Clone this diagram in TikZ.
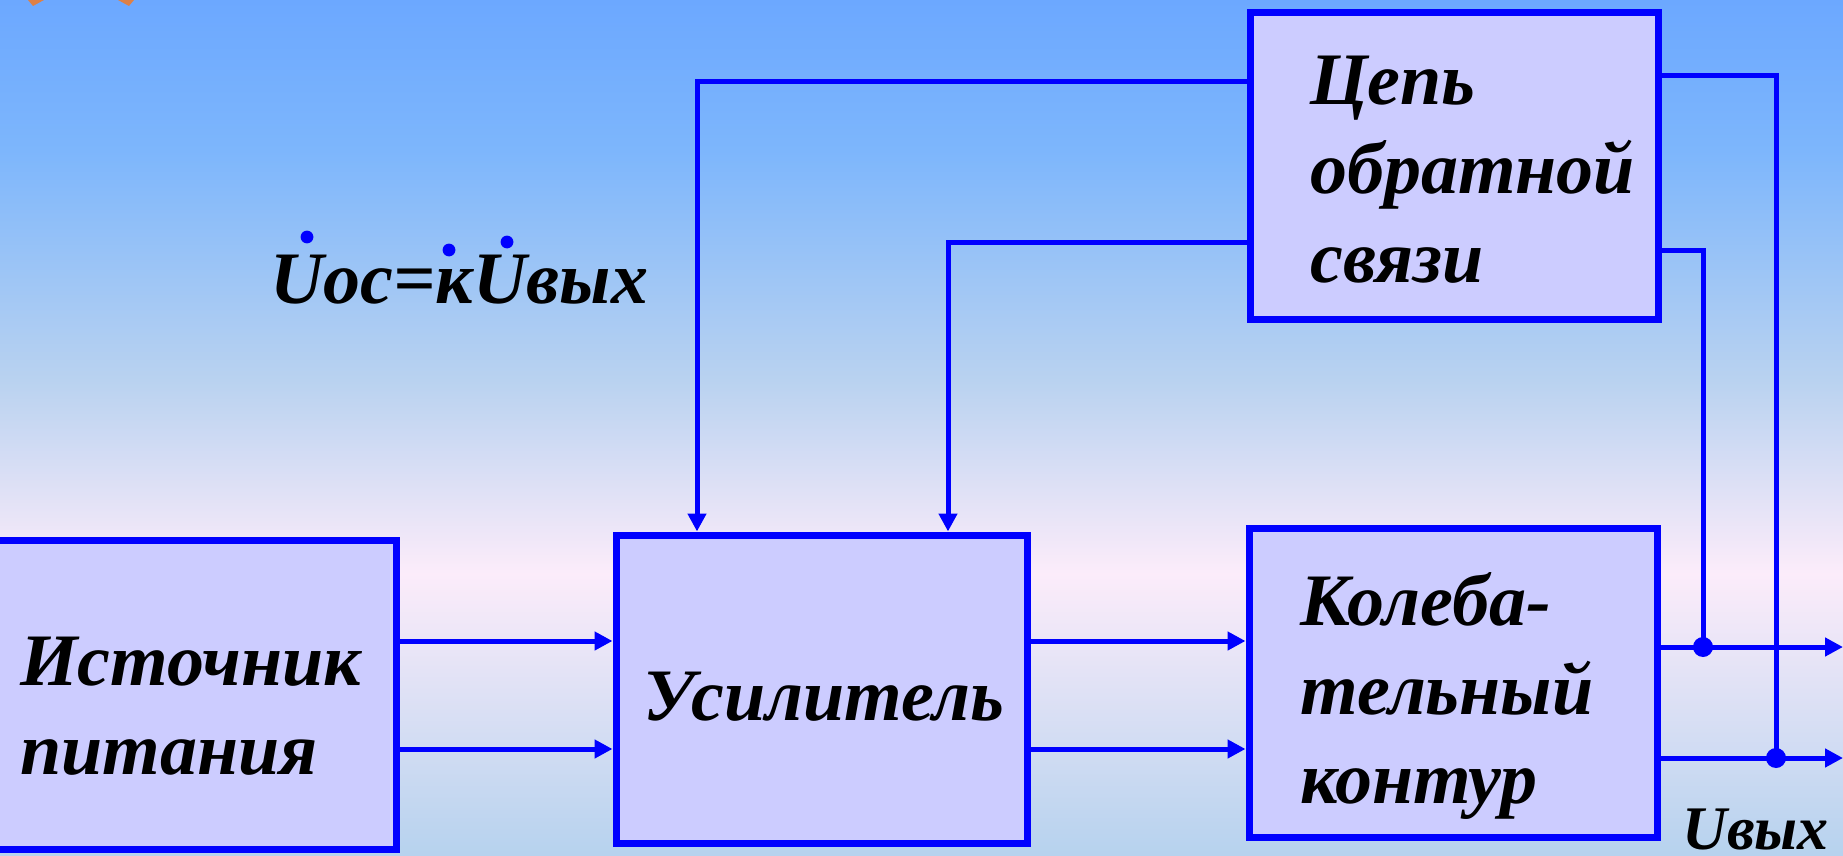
\documentclass[tikz,border=0pt]{standalone}
\usepackage{fontspec}
\setmainfont{Liberation Serif}
\usetikzlibrary{arrows.meta,calc}

\definecolor{bgtop}{RGB}{108,168,255}
\definecolor{bghigh}{RGB}{125,182,252}
\definecolor{bgmid}{RGB}{185,210,240}
\definecolor{bgpink}{RGB}{252,236,250}
\definecolor{bgbot}{RGB}{182,210,238}
\definecolor{boxfill}{RGB}{204,204,255}
\definecolor{wireblue}{RGB}{0,0,255}
\definecolor{starorange}{RGB}{222,128,70}

% slide background, stops inside the 25bp..75bp band
\pgfdeclareverticalshading{slidebg}{100bp}{color(0bp)=(bgbot); color(25bp)=(bgbot); color(41.5bp)=(bgpink); color(52.8bp)=(bgmid); color(66.2bp)=(bghigh); color(75bp)=(bgtop); color(100bp)=(bgtop)}

\begin{document}
\begin{tikzpicture}[x=0.5pt,y=-0.5pt,
    block/.style={draw=wireblue, line width=3.5pt, fill=boxfill},
    boxtext/.style={align=left, inner sep=0pt, anchor=west,
      font=\fontsize{37}{44.5}\selectfont\bfseries\itshape},
    wire/.style={wireblue, line width=2.5pt},
    arr/.style={wire, -{Triangle[length=9pt,width=9pt]}},
    jdot/.style={fill=wireblue}]
  \shade[shading=slidebg] (0,0) rectangle (1843,856);
  \useasboundingbox (0,0) rectangle (1843,856);
  % star tips
  \fill[starorange] (28,0) -- (44,0) -- (33,6) -- cycle;
  \fill[starorange] (118,0) -- (134,0) -- (129,6) -- cycle;

  % blocks
  \node[block, minimum width=199.5pt, minimum height=154.5pt] (src) at (196.5,694.5) {};
  \node[block, minimum width=205.5pt, minimum height=154pt] (amp) at (821.5,689) {};
  \node[block, minimum width=204pt, minimum height=154.5pt] (osc) at (1453,682.5) {};
  \node[block, minimum width=204pt, minimum height=153pt] (fb) at (1454,166) {};

  \node[boxtext] (srcText) at (20,706) {Источник\\питания};
  \node[boxtext] (ampText) at (643,697) {Усилитель};
  \node[boxtext] (oscText) at (1300,696) {Колеба-\\тельный\\контур};
  \node[boxtext] (fbText) at (1310,170) {Цепь\\обратной\\связи};

  % labels
  \node[font=\fontsize{37}{37}\selectfont\bfseries\itshape, anchor=base west, inner sep=0pt] (eq) at (270,303) {Uос=кUвых};
  \fill[jdot] ($(eq.base west)+(37,-66)$) circle (3.2pt);
  \fill[jdot] ($(eq.base west)+(179,-53)$) circle (3.2pt);
  \fill[jdot] ($(eq.base west)+(237,-61)$) circle (3.2pt);
  \node[font=\fontsize{31}{31}\selectfont\bfseries\itshape, anchor=base west, inner sep=0pt] (uout) at (1682,849) {Uвых};

  % forward path
  \coordinate (in1) at (0,641);
  \coordinate (in2) at (0,749);
  \draw[arr] (src.east |- in1) -- (amp.west |- in1);
  \draw[arr] (src.east |- in2) -- (amp.west |- in2);
  \draw[arr] (amp.east |- in1) -- (osc.west |- in1);
  \draw[arr] (amp.east |- in2) -- (osc.west |- in2);

  \coordinate (out1) at (1843,647);
  \coordinate (out2) at (1843,758);
  \draw[arr] (osc.east |- out1) -- (out1);
  \draw[arr] (osc.east |- out2) -- (out2);

  % feedback
  \coordinate (fbA) at (697,82);
  \coordinate (fbB) at (948,242);
  \coordinate (fbC) at (1776,76);
  \coordinate (fbD) at (1703,250);
  \draw[arr] (fb.west |- fbA) -- (fbA) -- (fbA |- amp.north);
  \draw[arr] (fb.west |- fbB) -- (fbB) -- (fbB |- amp.north);
  \draw[wire] (fb.east |- fbC) -- (fbC) -- (fbC |- out2);
  \draw[wire] (fb.east |- fbD) -- (fbD) -- (fbD |- out1);
  \fill[jdot] (fbC |- out2) circle (5pt);
  \fill[jdot] (fbD |- out1) circle (5pt);
\end{tikzpicture}
\end{document}
